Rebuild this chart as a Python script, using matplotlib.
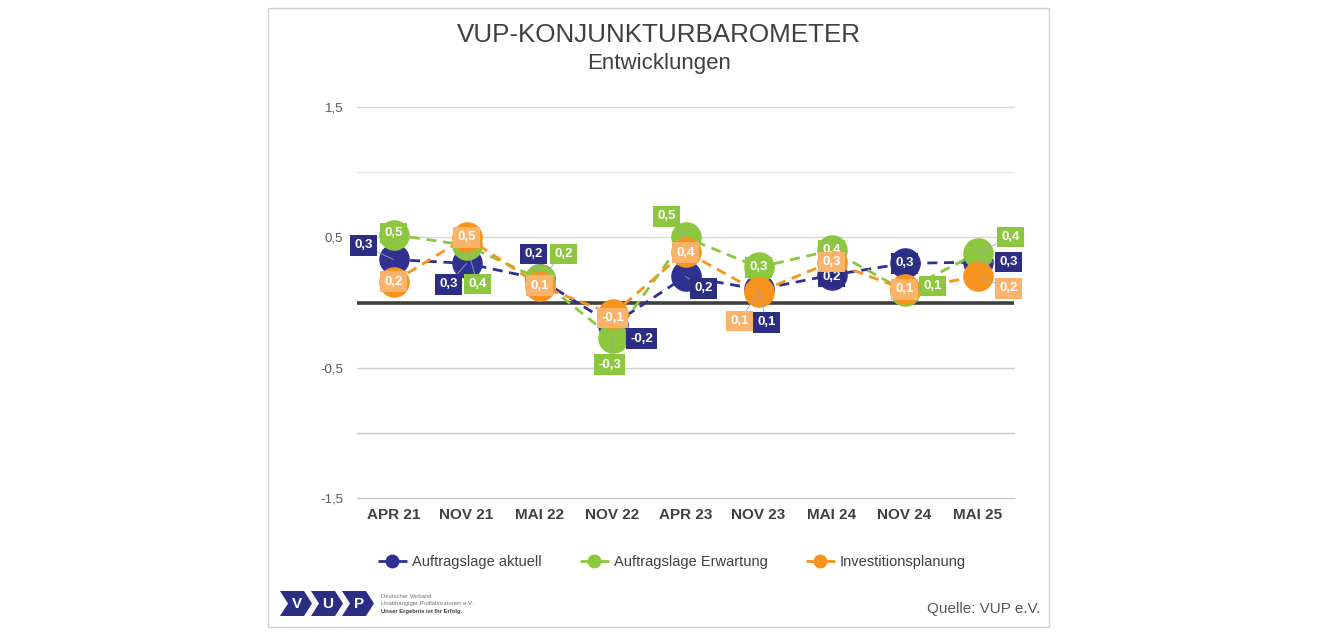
import matplotlib.pyplot as plt
from matplotlib.lines import Line2D
from matplotlib.patches import Polygon, Rectangle

plt.rcParams['font.family'] = ['Liberation Sans', 'DejaVu Sans']

# data
periods = ['APR 21', 'NOV 21', 'MAI 22', 'NOV 22', 'APR 23', 'NOV 23', 'MAI 24', 'NOV 24', 'MAI 25']
aktuell = [0.33, 0.30, 0.18, -0.17, 0.20, 0.10, 0.21, 0.30, 0.31]
erwartung = [0.52, 0.44, 0.18, -0.27, 0.50, 0.27, 0.40, 0.09, 0.38]
investition = [0.16, 0.50, 0.13, -0.09, 0.39, 0.08, 0.31, 0.10, 0.20]

series_names = ['Auftragslage aktuell', 'Auftragslage Erwartung', 'Investitionsplanung']

# label offsets in pixels (dx, dy) relative to each point
off_aktuell = [(-30, 14), (-18, -21), (-6, 25), (29, -14), (18, -12), (8, -33), (0, -2), (0, 0), (31, 0)]
off_erwartung = [(0, 2), (11, -39), (24, 25), (-3, -27), (-19, 21), (0, 0), (0, 0), (28, 5), (33, 16)]
off_investition = [(0, 0), (0, 0), (0, 0), (0, -4), (0, -1), (-19, -29), (0, 0), (0, 0), (31, -12)]

line_cols = ['#2e3192', '#8dc63f', '#f7941d']
box_cols = ['#2b2e83', '#8dc63f', '#f9b36a']

W, H = 1320, 636
fig = plt.figure(figsize=(W / 100, H / 100), dpi=100)

# frame
fig.patches.append(Rectangle((268 / W, 1 - 627 / H), (1049 - 268) / W, (627 - 8) / H,
                             transform=fig.transFigure, fill=False, ec='#d0d0d0', lw=1))

ax = fig.add_axes([357 / W, 1 - 498 / H, (1014 - 357) / W, (498 - 107) / H])
x = list(range(len(periods)))

for yv, gc in [(1.5, '#d9d9d9'), (1.0, '#e6e6e6'), (0.5, '#d9d9d9'),
               (-0.5, '#d0d0d0'), (-1.0, '#c8c8c8'), (-1.5, '#c8c8c8')]:
    ax.axhline(yv, color=gc, lw=1, zorder=0, clip_on=False)
ax.axhline(0, color='#3f3f3f', lw=2.6, zorder=1)

all_series = [aktuell, erwartung, investition]
all_offsets = [off_aktuell, off_erwartung, off_investition]

for k, vals in enumerate(all_series):
    ax.plot(x, vals, linestyle=(0, (3.6, 2.4)), color=line_cols[k], lw=2.0,
            marker='o', ms=21, mec=line_cols[k], mfc=line_cols[k], zorder=2 + k)

for k, vals in enumerate(all_series):
    for i, v in enumerate(vals):
        dx, dy = all_offsets[k][i]
        txt = f'{v:.1f}'.replace('.', ',')
        props = None
        if abs(dx) + abs(dy) > 8:
            props = dict(arrowstyle='-', color='#9aa0b8', lw=0.6, shrinkA=0, shrinkB=0)
        ax.annotate(txt, xy=(i, v), xytext=(dx * 0.72, dy * 0.72), textcoords='offset points',
                    ha='center', va='center', color='white', fontsize=9.5, fontweight='bold',
                    bbox=dict(boxstyle='square,pad=0.32', fc=box_cols[k], ec='none'),
                    arrowprops=props, zorder=10)

ax.set_xlim(-0.5, len(periods) - 0.5)
ax.set_ylim(-1.5, 1.5)
ax.set_yticks([1.5, 0.5, -0.5, -1.5])
ax.set_yticklabels(['1,5', '0,5', '-0,5', '-1,5'])
ax.set_xticks(x)
ax.set_xticklabels(periods, fontweight='bold')
ax.tick_params(axis='y', length=0, pad=10, labelsize=9.5, labelcolor='#595959')
ax.tick_params(axis='x', length=0, pad=7, labelsize=11, labelcolor='#404040')
for s in ax.spines.values():
    s.set_visible(False)
ax.set_facecolor('none')

fig.text(659 / W, 1 - 35 / H, 'VUP-KONJUNKTURBAROMETER', ha='center', va='center',
         fontsize=18.7, color='#404040')
fig.text(659 / W, 1 - 63 / H, 'Entwicklungen', ha='center', va='center',
         fontsize=16, color='#404040')

handles = [Line2D([0], [0], color=line_cols[k], lw=2, linestyle=(0, (4, 3)),
                  marker='o', ms=9, mfc=line_cols[k], mec=line_cols[k]) for k in range(3)]
fig.legend(handles, series_names, loc='center', bbox_to_anchor=(672 / W, 1 - 562 / H),
           ncol=3, frameon=False, fontsize=10.5, handlelength=2.0, columnspacing=2.6,
           handletextpad=0.35, labelcolor='#404040')

# logo
logo_col = '#2b2e83'
for j, letter in enumerate(['V', 'U', 'P']):
    x0 = 280 + j * 31
    pts = [(x0, 591), (x0 + 24, 591), (x0 + 32, 603.5), (x0 + 24, 616), (x0, 616), (x0 + 8, 603.5)]
    poly = Polygon([(px / W, 1 - py / H) for px, py in pts], closed=True,
                   transform=fig.transFigure, fc=logo_col, ec='none')
    fig.patches.append(poly)
    fig.text((x0 + 17) / W, 1 - 604 / H, letter, ha='center', va='center',
             color='white', fontsize=11, fontweight='bold')
fig.text(381 / W, 1 - 596 / H, 'Deutscher Verband', fontsize=4.2, color='#707070', va='center')
fig.text(381 / W, 1 - 604 / H, 'Unabhängiger Prüflaboratorien e.V.', fontsize=4.2, color='#707070', va='center')
fig.text(381 / W, 1 - 612 / H, 'Unser Ergebnis ist Ihr Erfolg.', fontsize=4.2, color='#404040',
         fontweight='bold', va='center')

fig.text(1040 / W, 1 - 609 / H, 'Quelle: VUP e.V.', ha='right', va='center',
         fontsize=11, color='#595959')

fig.savefig('out.png', dpi=100)
